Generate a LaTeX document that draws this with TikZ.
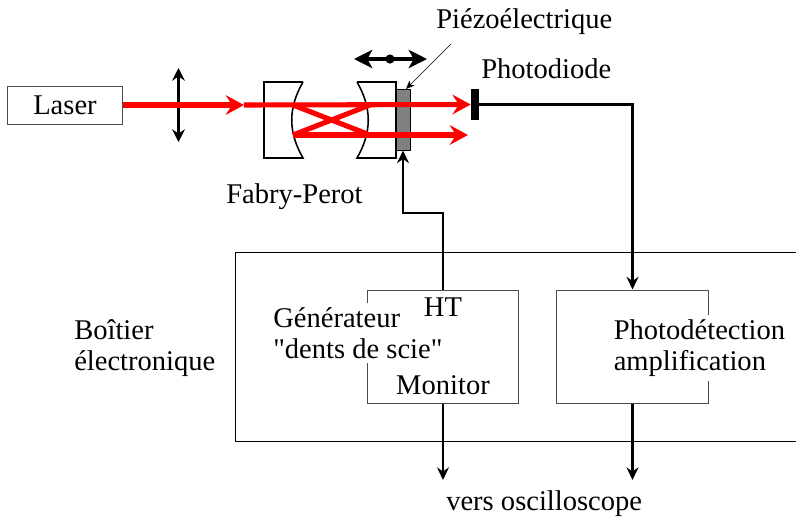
\documentclass[tikz,border=0pt]{standalone}
\usepackage{fontspec}
\setmainfont[Ligatures=TeXOff]{Liberation Serif}
\usetikzlibrary{arrows.meta}

\tikzset{
  beam/.style={draw=red,line width=3.6pt,-{Stealth[length=13pt,width=14pt,inset=4.5pt]}},
  wire/.style={draw=black,line width=1.8pt},
  wirearrow/.style={wire,-{Stealth[length=9pt,width=8.5pt,inset=3pt]}},
  thickarrow/.style={draw=black,line width=2.8pt,{Stealth[length=13pt,width=13pt,inset=3.5pt]}-{Stealth[length=13pt,width=13pt,inset=3.5pt]}},
  lensarrow/.style={draw=black,line width=2pt,{Stealth[length=9pt,width=9pt,inset=3pt]}-{Stealth[length=9pt,width=9pt,inset=3pt]}},
  boxnode/.style={shape=rectangle,draw=black!70,line width=0.7pt,inner sep=0pt},
  lbl/.style={inner sep=0pt,font=\fontsize{20.3}{22}\selectfont,align=left},
  covered/.style={lbl,fill=white,inner xsep=0pt,inner ysep=3pt}
}

\begin{document}
\begin{tikzpicture}[x=0.025cm,y=-0.025cm]
\useasboundingbox (0,0) rectangle (796,516);

% outer box runs off the page on the right
\draw[line width=0.7pt] (800,252) -- (235,252) -- (235,441) -- (800,441);

\node[boxnode,minimum width=2.85cm,minimum height=0.95cm] (laser) at (65,105) {};
\node[lbl] (laserlbl) at (65,105) {Laser};

\node[boxnode,minimum width=3.775cm,minimum height=2.825cm] (gen) at (443,346.5) {};
\node[boxnode,minimum width=3.775cm,minimum height=2.825cm] (det) at (632.5,346.5) {};

\node[covered,anchor=west] (genlbl) at (273,333) {Générateur\\"dents de scie"};
\node[covered,anchor=west] (detlbl) at (613.5,348) {Photodétection\\amplification};
\node[lbl] (ht) at (443,307) {HT};
\node[lbl] (mon) at (443,385) {Monitor};

% mirrors
\draw[line width=1.1pt] (303,82) -- (264,82) -- (264,158) -- (303,158) .. controls (288,132) and (288,108) .. (303,82);
\draw[line width=1.1pt] (357,82) -- (396,82) -- (396,158) -- (357,158) .. controls (372,132) and (372,108) .. (357,82);

\node[shape=rectangle,draw=black,fill=gray,line width=0.7pt,minimum width=0.35cm,minimum height=1.525cm,inner sep=0pt] (piezo) at (403,119.5) {};
\node[shape=rectangle,fill=black,minimum width=0.2cm,minimum height=0.775cm,inner sep=0pt] (pd) at (475,104.5) {};

\coordinate (in) at (244,105);
\coordinate (a1) at (293,105);
\coordinate (a2) at (293,135);
\coordinate (b1) at (370,105);
\coordinate (b2) at (370,135);
\coordinate (out2) at (468,135);
\coordinate (l1) at (178.5,68);
\coordinate (l2) at (178.5,142);
\coordinate (t1) at (354,59);
\coordinate (t2) at (427,59);
\coordinate (down1) at (443,480);
\coordinate (down2) at (632.5,480);
\coordinate (leader) at (451,44);
\coordinate (ptip) at (406,89);

\draw[lensarrow] (l1) -- (l2);
\draw[beam] (laser.east) -- (in);
\draw[beam] (in) -- (pd.west);
\draw[beam] (a2) -- (out2);
\draw[draw=red,line width=3.6pt] (a1) -- (b2);
\draw[draw=red,line width=3.6pt] (a2) -- (b1);

\draw[thickarrow] (t1) -- (t2);
\node[shape=circle,fill=black,minimum size=0.23cm,inner sep=0pt] (dot) at (390,59) {};
\draw[-{Stealth[length=6pt,width=5pt,inset=1.5pt]},line width=0.4pt] (leader) -- (ptip);

\draw[wirearrow] (pd.east) -| (det.north);
\draw[wirearrow] (gen.north) |- (403,213) -- (piezo.south);
\draw[wirearrow] (gen.south) -- (down1);
\draw[wirearrow] (det.south) -- (down2);

\node[lbl,anchor=west] (plbl) at (436,21.5) {Piézoélectrique};
\node[lbl,anchor=west] (pdlbl) at (481,69) {Photodiode};
\node[lbl,anchor=west] (fplbl) at (226,196.5) {Fabry-Perot};
\node[lbl,anchor=west] (boxlbl) at (74,348) {Boîtier\\électronique};
\node[lbl,anchor=west] (osclbl) at (446,503.5) {vers oscilloscope};

\end{tikzpicture}
\end{document}
